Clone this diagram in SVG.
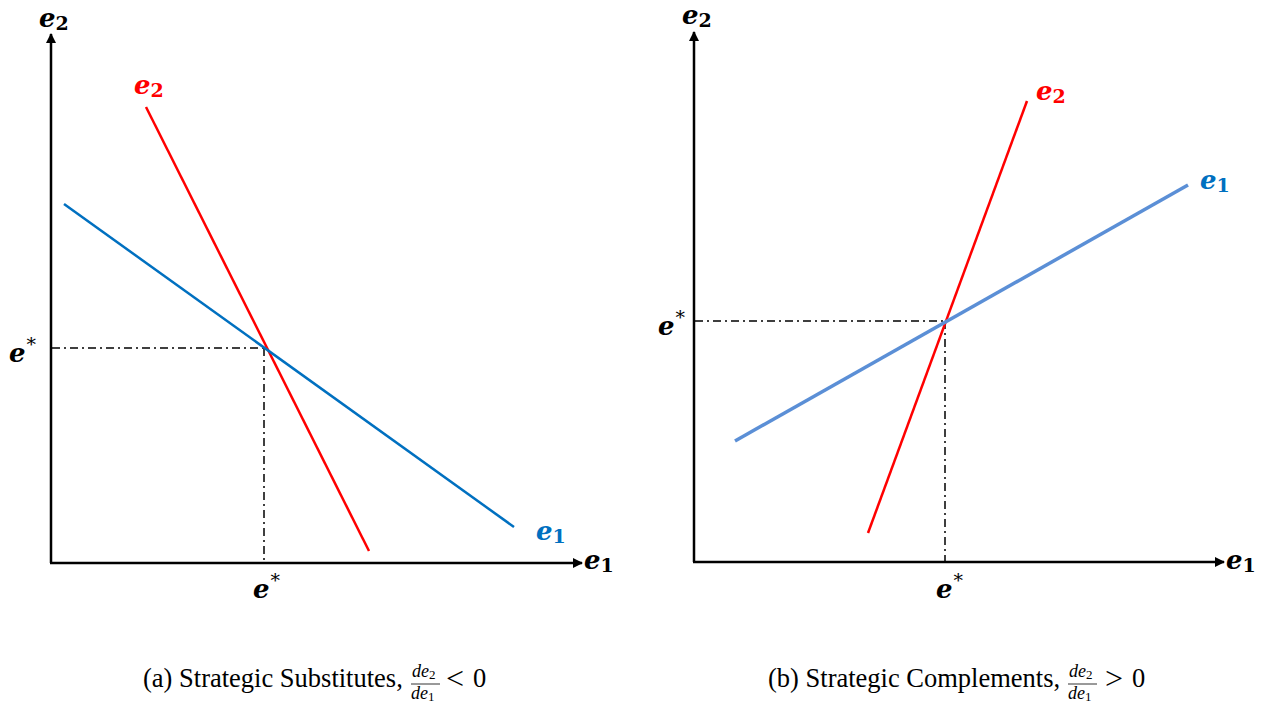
<svg xmlns="http://www.w3.org/2000/svg" width="1272" height="704" viewBox="0 0 1272 704">
<defs>
<marker id="arr" viewBox="0 0 10 10" refX="9" refY="5" markerWidth="10" markerHeight="10" markerUnits="userSpaceOnUse" orient="auto">
<path d="M0,0 L10,5 L0,10 z" fill="#000"/>
</marker>
<style>
.axis{stroke:#000;stroke-width:2.5;fill:none}
.dd{stroke:#000;stroke-width:1.5;stroke-dasharray:8,4,2,4;fill:none}
.lbl{font-family:"DejaVu Serif",serif;font-weight:bold;font-style:italic;font-size:26px}
.sub{font-style:normal;font-size:19px}
.sup{font-style:normal;font-weight:normal;font-size:19px}
.cap{font-family:"Liberation Serif","Times New Roman",serif;font-size:26.5px}
.rel{font-family:"Liberation Serif","Times New Roman",serif;font-size:32px}
.frac{font-family:"Liberation Serif","Times New Roman",serif;font-style:italic;font-size:18px}
.fs{font-style:normal;font-size:13px}
.bar{stroke:#000;stroke-width:0.8}
</style>
</defs>
<rect width="1272" height="704" fill="#fff"/>
<g id="connectors">
<line class="axis" x1="51" y1="563" x2="51" y2="34" marker-end="url(#arr)"/>
<line class="axis" x1="50" y1="563" x2="582" y2="563" marker-end="url(#arr)"/>
<line class="dd" x1="52" y1="348" x2="264" y2="348"/>
<line class="dd" x1="264" y1="348" x2="264" y2="562"/>
<line x1="146" y1="107" x2="369" y2="551" stroke="#FF0000" stroke-width="2.5"/>
<line x1="64" y1="204" x2="514" y2="527" stroke="#0070C0" stroke-width="2.5"/>
<line class="axis" x1="694" y1="562" x2="694" y2="32" marker-end="url(#arr)"/>
<line class="axis" x1="693" y1="562" x2="1224" y2="562" marker-end="url(#arr)"/>
<line class="dd" x1="695" y1="321" x2="945" y2="321"/>
<line class="dd" x1="945" y1="321" x2="945" y2="561"/>
<line x1="868" y1="533" x2="1027" y2="101" stroke="#FF0000" stroke-width="2.5"/>
<line x1="735" y1="441" x2="1188" y2="185" stroke="#5B8FD6" stroke-width="3.5"/>
</g>
<g id="labels-a">
<text class="lbl" x="39" y="27">e<tspan class="sub" dy="3">2</tspan></text>
<text class="lbl" x="134" y="94" fill="#FF0000">e<tspan class="sub" dy="3">2</tspan></text>
<text class="lbl" x="536" y="540" fill="#0070C0">e<tspan class="sub" dy="3">1</tspan></text>
<text class="lbl" x="584" y="569">e<tspan class="sub" dy="3">1</tspan></text>
<text class="lbl" x="9" y="362">e<tspan class="sup" dx="1" dy="-11">*</tspan></text>
<text class="lbl" x="253" y="598">e<tspan class="sup" dx="1" dy="-11">*</tspan></text>
<text class="cap" x="143" y="687">(a) Strategic Substitutes,</text>
<text class="frac" x="412" y="677">de<tspan class="fs" dy="1.5">2</tspan></text>
<line class="bar" x1="411" y1="684" x2="440" y2="684"/>
<text class="frac" x="411" y="699">de<tspan class="fs" dy="1.5">1</tspan></text>
<text class="rel" x="446" y="689">&lt;</text>
<text class="cap" x="473" y="687">0</text>
</g>
<g id="labels-b">
<text class="lbl" x="682" y="24">e<tspan class="sub" dy="3">2</tspan></text>
<text class="lbl" x="1036" y="100" fill="#FF0000">e<tspan class="sub" dy="3">2</tspan></text>
<text class="lbl" x="1200" y="189" fill="#0070C0">e<tspan class="sub" dy="3">1</tspan></text>
<text class="lbl" x="1226" y="569">e<tspan class="sub" dy="3">1</tspan></text>
<text class="lbl" x="658" y="335">e<tspan class="sup" dx="1" dy="-11">*</tspan></text>
<text class="lbl" x="936" y="598">e<tspan class="sup" dx="1" dy="-11">*</tspan></text>
<text class="cap" x="768" y="687">(b) Strategic Complements,</text>
<text class="frac" x="1069" y="677">de<tspan class="fs" dy="1.5">2</tspan></text>
<line class="bar" x1="1068" y1="684" x2="1097" y2="684"/>
<text class="frac" x="1068" y="699">de<tspan class="fs" dy="1.5">1</tspan></text>
<text class="rel" x="1105" y="689">&gt;</text>
<text class="cap" x="1132" y="687">0</text>
</g>
</svg>
